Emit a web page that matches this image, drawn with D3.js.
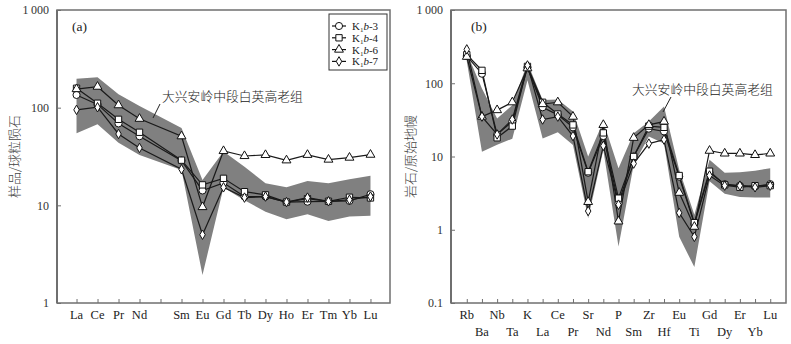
<!DOCTYPE html>
<html><head><meta charset="utf-8">
<script src="https://cdn.jsdelivr.net/npm/d3@7"></script>
<style>
body{margin:0;background:#fff;}
svg{display:block;}
</style></head>
<body>
<svg id="c" width="791" height="344"></svg>
<script>
// ---------- Data: chart (a) REE, chondrite-normalised ----------
const reeAxis = ["La","Ce","Pr","Nd","Pm","Sm","Eu","Gd","Tb","Dy","Ho","Er","Tm","Yb","Lu"];
const reeElements = ["La","Ce","Pr","Nd","Sm","Eu","Gd","Tb","Dy","Ho","Er","Tm","Yb","Lu"];
const reeK3 = [135,108,69,51,28.7,14.2,17,12.3,12.3,10.8,10.9,11,11.1,13];
const reeK4 = [158,111,76,56,29,16.2,18.9,13.8,12.8,10.8,11.7,11,12.1,11.9];
const reeK6 = [155,164,106,77,51,9.6,36,32,32.8,28.9,32.9,29.4,30.8,33];
const reeK7 = [95,101,53.8,38.7,23.4,5.0,15.3,12,12.3,10.8,12,11,11.4,12.3];
const reeBandUpper = [198,205,137,104,62,18.2,35.5,24.9,16.8,15.3,17.8,16.8,18.5,20.1];
const reeBandLower = [54.7,67.6,43.8,32.8,23,1.94,15.2,11.3,8.6,7.2,8.1,6.9,7.7,7.8];
const reeYTicks = [1,10,100,1000];

// ---------- Data: chart (b) trace elements, primitive-mantle-normalised ----------
const traceElements = ["Rb","Ba","Nb","Ta","K","La","Ce","Pr","Sr","Nd","P","Sm","Zr","Hf","Eu","Ti","Gd","Dy","Er","Yb","Lu"];
const trK3 = [235,135,20,30,165,47,37,25,6.0,19,2.3,10,24,22,5.3,1.2,6.0,4.2,4.0,3.9,4.2];
const trK4 = [245,150,18,26,170,55,38,27,6.2,21,2.7,10,26,25,5.5,1.25,6.3,4.1,3.8,4.0,4.0];
const trK6 = [230,35,43,55,160,52,55,35,2.4,27,1.3,18,27,30,3.2,1.1,12,11,11,10.5,11];
const trK7 = [290,35,20,32,175,32,35,19,1.8,14,2.2,8,15,17,1.7,0.8,5.5,4.0,4.0,3.8,4.0];
const trBandUpper = [260,85,33,50,190,59,60,41,10,30,6.9,20.7,30,48,6.6,1.6,9,6.0,6.1,6.4,6.9];
const trBandLower = [200,11.6,14.5,17.5,110,17.6,21.4,14.4,1.43,12.3,0.59,7.7,18.7,15.1,0.8,0.31,4.6,3.1,2.8,2.75,2.75];
const trYTicks = [0.1,1,10,100,1000];

const seriesNames = ["3","4","6","7"];
const seriesMarkers = ["circle","square","triangle","diamond"];
const bandLabel = "大兴安岭中段白英高老组";

// ---------- drawing ----------
const svg = d3.select("#c");
const serif = "'Liberation Serif','Times New Roman',serif";
const cjk = "'Noto Sans CJK SC','Noto Sans',sans-serif";
const frameColor = "#6f6f6f";

function fmtTick(v){
  if (v === 1000) return "1\u2009000";
  return String(v);
}

function marker(g, type, x, y){
  const s = g.append("path")
    .attr("transform", `translate(${x},${y})`)
    .attr("fill","#fff").attr("stroke","#111").attr("stroke-width",1);
  let sym;
  if (type==="circle") sym = d3.symbol(d3.symbolCircle, 40);
  else if (type==="square") sym = d3.symbol(d3.symbolSquare, 40);
  else if (type==="triangle") sym = d3.symbol(d3.symbolTriangle, 34);
  else sym = d3.symbol(d3.symbolDiamond, 26);
  s.attr("d", sym());
  return s;
}

function drawChart(cfg){
  const g = svg.append("g");
  const x = d3.scalePoint().domain(cfg.axis).range([cfg.x0, cfg.x1]).padding(cfg.pad);
  const y = d3.scaleLog().domain(cfg.ydom).range([cfg.y1, cfg.y0]);

  // band
  const area = d3.area()
    .x((d,i)=>x(cfg.elements[i]))
    .y0((d,i)=>y(cfg.lower[i]))
    .y1((d,i)=>y(cfg.upper[i]));
  g.append("path").datum(cfg.upper).attr("d", area).attr("fill","#808080");

  // series lines
  const line = d3.line().x((d,i)=>x(cfg.elements[i])).y(d=>y(d));
  cfg.series.forEach(s=>{
    g.append("path").datum(s).attr("d", line)
      .attr("fill","none").attr("stroke","#1a1a1a").attr("stroke-width",1.2);
  });
  cfg.series.forEach((s,k)=>{
    s.forEach((v,i)=> marker(g, seriesMarkers[k], x(cfg.elements[i]), y(v)));
  });

  // frame
  g.append("rect").attr("x",cfg.x0).attr("y",cfg.y0)
    .attr("width",cfg.x1-cfg.x0).attr("height",cfg.y1-cfg.y0)
    .attr("fill","none").attr("stroke",frameColor).attr("stroke-width",1.5);
  g.append("line").attr("x1",cfg.x0).attr("x2",cfg.x0).attr("y1",cfg.y0).attr("y2",cfg.y1)
    .attr("stroke",frameColor).attr("stroke-width",2);

  // y axis
  const ya = d3.axisLeft(y).tickValues(cfg.yticks).tickFormat(fmtTick).tickSizeInner(-4).tickSizeOuter(0).tickPadding(8);
  const yg = g.append("g").attr("transform",`translate(${cfg.x0},0)`).call(ya);
  yg.select(".domain").remove();
  yg.selectAll("line").attr("stroke",frameColor);
  yg.selectAll("text").attr("font-family",serif).attr("font-size",12).attr("fill","#333");

  // x axis
  const xa = d3.axisBottom(x).tickSizeInner(-4).tickSizeOuter(0).tickFormat(()=> "");
  const xg = g.append("g").attr("transform",`translate(0,${cfg.y1})`).call(xa);
  xg.select(".domain").remove();
  xg.selectAll("line").attr("stroke",frameColor);
  cfg.axis.forEach((e,i)=>{
    if (cfg.hidden && cfg.hidden.includes(e)) return;
    const row = cfg.twoRows ? (i%2) : 0;
    g.append("text").attr("x", x(e)).attr("y", cfg.y1 + 16 + row*17)
      .attr("text-anchor","middle").attr("font-family",serif).attr("font-size",12.5)
      .attr("fill","#222").text(e);
  });

  // y label
  g.append("text").attr("transform",`translate(${cfg.ylabX},${(cfg.y0+cfg.y1)/2}) rotate(-90)`)
    .attr("text-anchor","middle").attr("dominant-baseline","middle")
    .attr("font-family",cjk).attr("font-size",13).attr("font-weight",300)
    .attr("fill","#444").text(cfg.ylabel);

  // panel tag
  g.append("text").attr("x",cfg.tagX).attr("y",31).attr("font-family",serif)
    .attr("font-size",13.5).attr("fill","#222").text(cfg.tag);

  // annotation
  g.append("text").attr("x",cfg.annX).attr("y",cfg.annY).attr("font-family",cjk)
    .attr("font-size",12.8).attr("font-weight",300).attr("fill","#222").text(bandLabel);
  g.append("line").attr("x1",cfg.lead[0]).attr("y1",cfg.lead[1]).attr("x2",cfg.lead[2]).attr("y2",cfg.lead[3])
    .attr("stroke","#222").attr("stroke-width",1);
  return g;
}

drawChart({
  axis: reeAxis, elements: reeElements, hidden:["Pm"],
  series:[reeK3,reeK4,reeK6,reeK7], upper:reeBandUpper, lower:reeBandLower,
  x0:57, x1:390, y0:10, y1:303, pad:0.93, ydom:[1,1000], yticks:reeYTicks,
  ylabel:"样品/球粒陨石", ylabX:15, tag:"(a)", tagX:72,
  annX:162, annY:101, lead:[160,104,153,118]
});

drawChart({
  axis: traceElements, elements: traceElements, twoRows:true,
  series:[trK3,trK4,trK6,trK7], upper:trBandUpper, lower:trBandLower,
  x0:451, x1:786, y0:10, y1:303, pad:1.04, ydom:[0.1,1000], yticks:trYTicks,
  ylabel:"岩石/原始地幔", ylabX:411, tag:"(b)", tagX:471,
  annX:632, annY:94, lead:[671,97,663,112]
});

// legend (in chart a)
const lg = svg.append("g");
lg.append("rect").attr("x",329).attr("y",14).attr("width",58).attr("height",56)
  .attr("fill","#fff").attr("stroke","#333").attr("stroke-width",1);
seriesNames.forEach((n,i)=>{
  const yy = 26 + i*11.8;
  lg.append("line").attr("x1",332).attr("x2",346).attr("y1",yy).attr("y2",yy)
    .attr("stroke","#111").attr("stroke-width",1.2);
  marker(lg, seriesMarkers[i], 339, yy);
  const t = lg.append("text").attr("x",352).attr("y",yy+4).attr("font-family",serif)
    .attr("font-size",11).attr("fill","#222");
  t.append("tspan").text("K");
  t.append("tspan").attr("font-size",7).attr("dy",2).text("1");
  t.append("tspan").attr("font-style","italic").attr("dy",-2).text("b");
  t.append("tspan").text("-" + n);
});
</script>
</body></html>
